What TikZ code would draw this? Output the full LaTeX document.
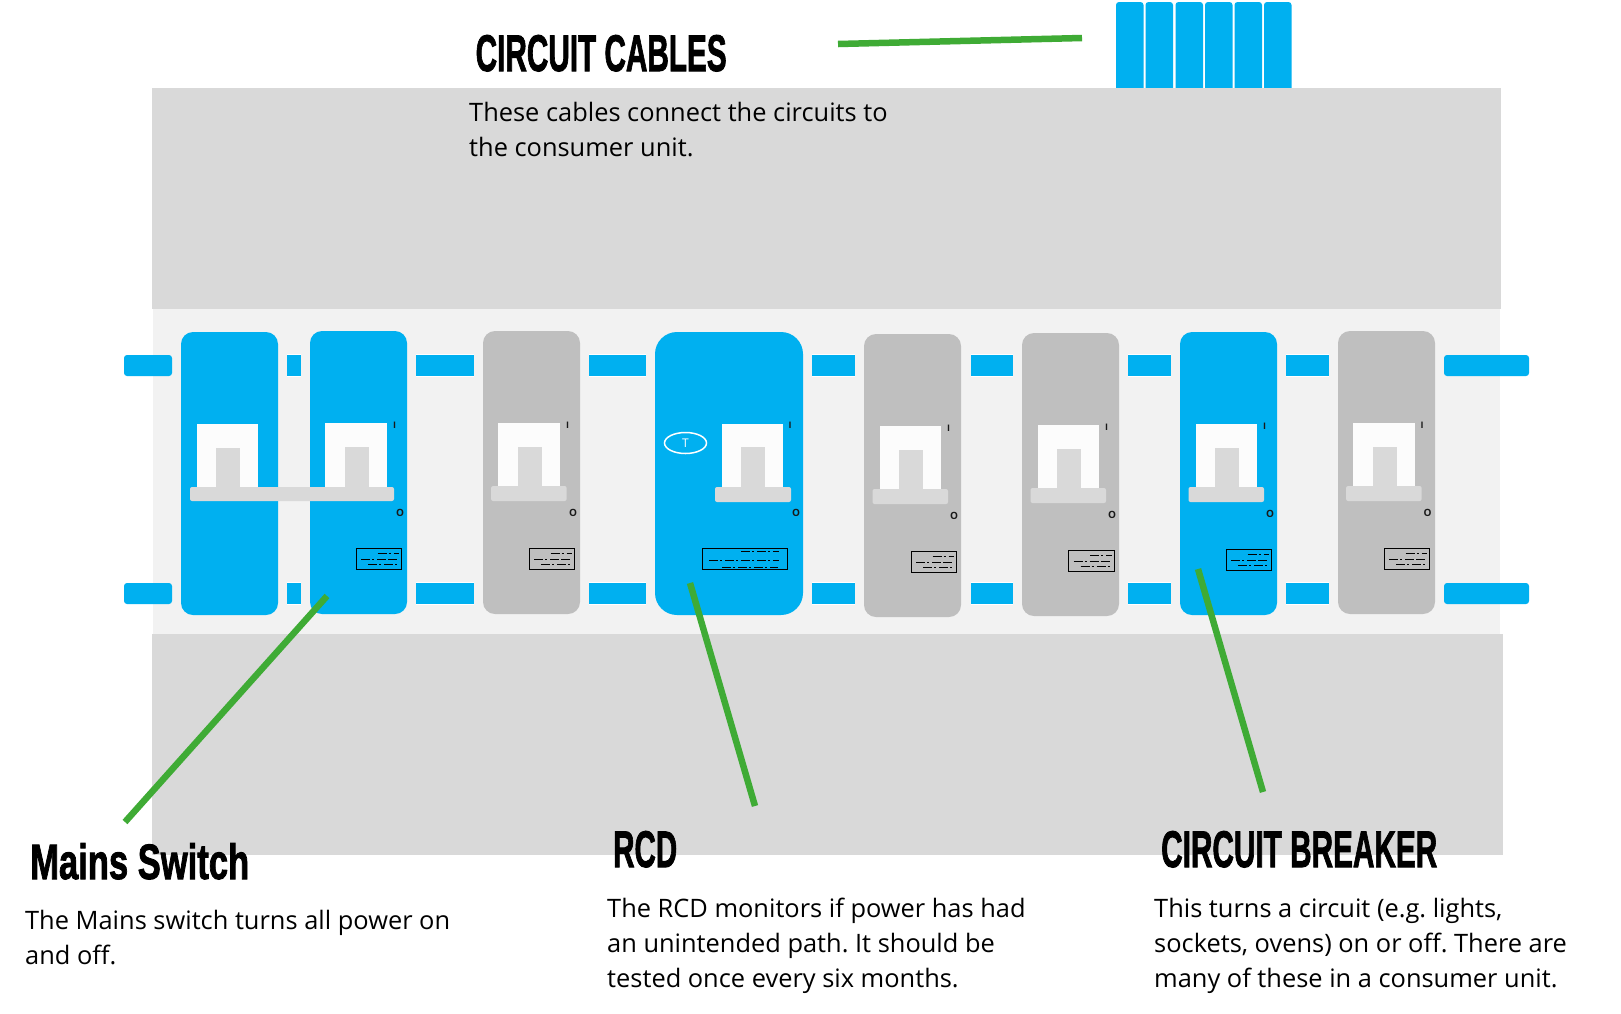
\documentclass[tikz,border=0pt]{standalone}
\usepackage{fontspec}
\usepackage{graphicx}
\usetikzlibrary{shapes.geometric}
\setmainfont{Open Sans}
\newfontfamily\headfont[FakeBold=2]{Liberation Sans Bold}
\definecolor{cyanbar}{HTML}{00B0F0}
\definecolor{panel}{HTML}{D9D9D9}
\definecolor{lightpanel}{HTML}{F2F2F2}
\definecolor{greymod}{HTML}{BFBFBF}
\definecolor{windowc}{HTML}{FCFCFC}
\definecolor{leader}{HTML}{3FAB35}
\tikzset{
  barseg/.style={fill=cyanbar},
  modbody/.style={rounded corners=12pt},
  leaderline/.style={draw=leader,line width=6.5pt},
  iomark/.style={font=\fontsize{10}{10}\selectfont\bfseries,inner sep=0pt,text=black!90},
  lab/.style={draw=black,line width=1pt,fill=none},
  dashA/.style={line width=0.9pt,dash pattern=on 9pt off 2pt on 2pt off 3pt on 9pt off 2pt},
  dashB/.style={line width=0.9pt,dash pattern=on 9pt off 2pt on 2pt off 3pt on 9pt off 2pt on 2pt off 3pt},
  bodytxt/.style={anchor=base west,inner sep=0pt,font=\fontsize{25.4}{35}\selectfont\frenchspacing},
  headtxt/.style={anchor=base west,inner sep=0pt},
}
\newcommand{\modbase}[4]{
  \path[fill=#4,modbody] (#2,#3) rectangle ++(97,283);
  \coordinate (#1) at (#2,#3);
}
\newcommand{\modwindow}[2]{
  \fill[windowc] (#1+15.5,#2+92) rectangle (#1+77,#2+156);
  \fill[panel] (#1+35,#2+116) rectangle (#1+59,#2+156);
  \fill[panel,rounded corners=2pt] (#1+8.5,#2+155) rectangle (#1+84,#2+170);
}
\newcommand{\modmarks}[2]{
  \node[iomark] at (#1+84.5,#2+94) {\fontsize{9}{9}\selectfont I};
  \node[iomark] at (#1+90,#2+182) {O};
}
\newcommand{\modlabel}[2]{
  \draw[lab] (#1+46,#2+217.5) rectangle (#1+91.5,#2+238.5);
  \draw[dashA] (#1+67.5,#2+222.5) -- (#1+89,#2+222.5);
  \draw[dashA] (#1+51,#2+228.5) -- (#1+88,#2+228.5);
  \draw[dashA] (#1+58,#2+233.5) -- (#1+87,#2+233.5);
}
\begin{document}
\begin{tikzpicture}[x=1pt,y=-1pt]
\useasboundingbox (0,0) rectangle (1621,1013);
\fill[white] (0,0) rectangle (1621,1013);
% panels
\fill[lightpanel] (153,309) rectangle (1500,634);
% circuit cables at the top
\foreach \xx in {1116,1145.5,1175.5,1205,1234.5,1264}{
  \fill[cyanbar,rounded corners=3pt] (\xx,2) -- (\xx+27.5,2) -- (\xx+27.5,100) -- (\xx,100) -- cycle;
}
\fill[panel] (152,88) rectangle (1501,309);
\fill[panel] (152,634) rectangle (1503,855);
% busbar segments
\foreach \ya/\yb in {355/376,583/604}{
  \fill[white] (287,\ya-1.2) rectangle (301,\yb+1.2);
  \fill[white] (416,\ya-1.2) rectangle (474,\yb+1.2);
  \fill[white] (589,\ya-1.2) rectangle (646,\yb+1.2);
  \fill[white] (812,\ya-1.2) rectangle (855,\yb+1.2);
  \fill[white] (971,\ya-1.2) rectangle (1013,\yb+1.2);
  \fill[white] (1128,\ya-1.2) rectangle (1171,\yb+1.2);
  \fill[white] (1286,\ya-1.2) rectangle (1329,\yb+1.2);
  \path[barseg,rounded corners=3pt] (124,\ya) -- (172,\ya) -- (172,\yb) -- (124,\yb) -- cycle;
  \path[barseg] (287,\ya) rectangle (301,\yb);
  \path[barseg] (416,\ya) rectangle (474,\yb);
  \path[barseg] (589,\ya) rectangle (646,\yb);
  \path[barseg] (812,\ya) rectangle (855,\yb);
  \path[barseg] (971,\ya) rectangle (1013,\yb);
  \path[barseg] (1128,\ya) rectangle (1171,\yb);
  \path[barseg] (1286,\ya) rectangle (1329,\yb);
  \path[barseg,rounded corners=3pt] (1444,\ya) -- (1529,\ya) -- (1529,\yb) -- (1444,\yb) -- cycle;
}
% modules
\modbase{m1}{181}{332}{cyanbar}
\modbase{m2}{310}{331}{cyanbar}
\modbase{m3}{483}{331}{greymod}
\path[fill=cyanbar,rounded corners=22pt] (655,332) rectangle (803,615);
\coordinate (rcd) at (655,332);
\modbase{m5}{864}{334}{greymod}
\modbase{m6}{1022}{333}{greymod}
\modbase{m7}{1180}{332}{cyanbar}
\modbase{m8}{1338}{331}{greymod}
% windows
\fill[windowc] (197,424) rectangle (258,488);
\fill[panel] (216,448) rectangle (240,488);
\fill[windowc] (325,423) rectangle (387,488);
\fill[panel] (345,447) rectangle (369,488);
\fill[panel,rounded corners=2pt] (190,487) rectangle (394,501);
\modwindow{482.6}{331}
\fill[windowc] (722,424) rectangle (783,488);
\fill[panel] (741,447) rectangle (765,488);
\fill[panel,rounded corners=2pt] (715,487) rectangle (791,502);
\modwindow{864}{334}
\modwindow{1022}{333}
\modwindow{1180}{332}
\modwindow{1337.6}{331}
% I / O marks and labels
\modmarks{310}{331}\modlabel{310}{331}
\modmarks{483}{331}\modlabel{483}{331}
\node[iomark] at (790,425) {\fontsize{9}{9}\selectfont I};
\node[iomark] at (796,513) {O};
\modmarks{864}{334}\modlabel{865}{333.5}
\modmarks{1022}{333}\modlabel{1022.5}{333}
\modmarks{1180}{332}\modlabel{1180}{332}
\modmarks{1337.6}{331}\modlabel{1338}{331}
% RCD label and test button
\draw[lab] (702,548.5) rectangle (787.5,569.5);
\draw[dashB] (741,551.5) -- (779,551.5);
\draw[dashB] (709,560.5) -- (779,560.5);
\draw[dashB] (722,567) -- (778,567);
\node[draw=white,line width=1.5pt,ellipse,minimum width=42pt,minimum height=21pt,inner sep=0pt,text=white,font=\fontsize{12}{12}\selectfont] (tbtn) at (685.5,443) {T};
% text
\node[headtxt] (hcables) at (475.5,71) {\resizebox{251pt}{36pt}{\headfont CIRCUIT CABLES}};
\node[bodytxt] (tcables1) at (469,121) {These cables connect the circuits to};
\node[bodytxt] (tcables2) at (469,156) {the consumer unit.};
\node[headtxt] (hmains) at (30,879) {\resizebox{219pt}{36pt}{\headfont Mains Switch}};
\node[bodytxt] (tmains1) at (25,929) {The Mains switch turns all power on};
\node[bodytxt] (tmains2) at (25,964) {and off.};
\node[headtxt] (hrcd) at (613,867) {\resizebox{64pt}{36pt}{\headfont RCD}};
\node[bodytxt] (trcd1) at (607,917) {The RCD monitors if power has had};
\node[bodytxt] (trcd2) at (607,952) {an unintended path. It should be};
\node[bodytxt] (trcd3) at (607,987) {tested once every six months.};
\node[headtxt] (hcb) at (1161,867) {\resizebox{276pt}{36pt}{\headfont CIRCUIT BREAKER}};
\node[bodytxt] (tcb1) at (1154,917) {This turns a circuit (e.g. lights,};
\node[bodytxt] (tcb2) at (1154,952) {sockets, ovens) on or off. There are};
\node[bodytxt] (tcb3) at (1154,987) {many of these in a consumer unit.};
% leader lines
\coordinate (lcabA) at (838,44);
\coordinate (lcabB) at (1082,38);
\coordinate (lmainsA) at (327,596);
\coordinate (lmainsB) at (125,822);
\coordinate (lrcdA) at (690,583);
\coordinate (lrcdB) at (755,806);
\coordinate (lcbA) at (1198,569);
\coordinate (lcbB) at (1263,792);
\draw[leaderline] (lcabA) -- (lcabB);
\draw[leaderline] (lmainsA) -- (lmainsB);
\draw[leaderline] (lrcdA) -- (lrcdB);
\draw[leaderline] (lcbA) -- (lcbB);
\end{tikzpicture}
\end{document}
